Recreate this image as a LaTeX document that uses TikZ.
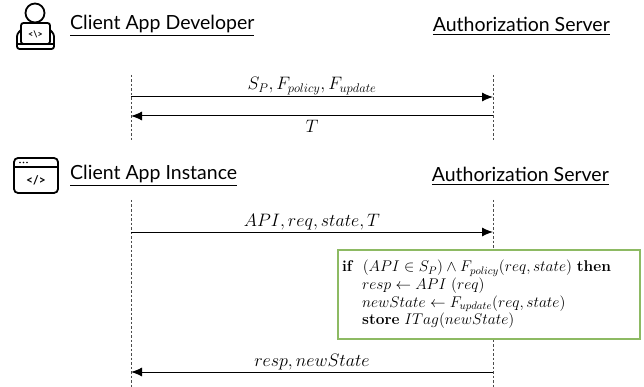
\RequirePackage{fix-cm}
\documentclass[tikz,border=0pt]{standalone}
\usepackage{amsmath}
\usepackage{amssymb}
\usepackage{fontspec}
\usepackage{xcolor}
\usetikzlibrary{arrows.meta,positioning}
\newfontfamily\headfont{Lato}
\definecolor{boxgreen}{RGB}{141,186,99}
\tikzset{
    actor-title/.style = {inner sep=0pt, font=\headfont\fontsize{19.5}{22}\selectfont},
    life-line/.style = {draw=black!70, thin, dash pattern=on 2.5pt off 2pt},
    msg-arrow/.style = {draw=black, line width=1pt, -{Latex[length=11pt,width=9pt]}},
    msg-label/.style = {inner sep=2pt, font=\fontsize{18}{20}\selectfont},
    cond-box/.style = {draw=boxgreen, fill=white, line width=1.2pt, rectangle, inner sep=0pt, minimum width=302pt, minimum height=89pt},
    icon-line/.style = {line width=1.8pt, rounded corners=2.5pt},
}

\begin{document}
\begin{tikzpicture}[x=1pt, y=1pt]
\useasboundingbox (0,0) rectangle (644,-387);
% developer icon
\draw[icon-line] (35,-13) circle (9.5);
\draw[icon-line, fill=white] (21,-23) rectangle (50,-44);
\draw[icon-line] (21,-30) -- (17,-34) -- (17,-49) -- (54,-49) -- (54,-34) -- (50,-30);
\draw[icon-line] (17,-44) -- (54,-44);
\node[inner sep=0pt, font=\headfont\bfseries\fontsize{9}{9}\selectfont] (devcode) at (35.5,-34) {<\textbackslash>};
% instance icon
\draw[icon-line, rounded corners=4pt] (14,-158) rectangle (58,-193);
\draw[line width=1.8pt] (14,-167) -- (58,-167);
\foreach \dx in {20,23.5,27} \fill (\dx,-162.5) circle (0.9);
\node[inner sep=0pt, font=\headfont\bfseries\fontsize{12}{12}\selectfont] (appcode) at (36,-180.5) {</>};

% first exchange
\node[actor-title, anchor=west] (dev) at (70,-26) {\underline{Client App Developer}};
\node[actor-title, anchor=east] (auth1) at (610,-26) {\underline{Authorization Server}};
\coordinate (dev-top) at (131,-75);
\coordinate (dev-bot) at (131,-140);
\coordinate (auth1-top) at (493,-75);
\coordinate (auth1-bot) at (493,-140);
\draw[life-line] (dev-top) -- (dev-bot);
\draw[life-line] (auth1-top) -- (auth1-bot);
\coordinate (m1-from) at (131,-97);
\coordinate (m1-to) at (493,-97);
\coordinate (m2-from) at (493,-116);
\coordinate (m2-to) at (131,-116);
\draw[msg-arrow] (m1-from) -- node[msg-label, above] (m1-label) {$S_P, F_{policy}, F_{update}$} (m1-to);
\draw[msg-arrow] (m2-from) -- node[msg-label, below, inner sep=4pt] (m2-label) {$T$} (m2-to);

% second exchange
\node[actor-title, anchor=west] (inst) at (70,-176) {\underline{Client App Instance}};
\node[actor-title, anchor=east] (auth2) at (609,-176) {\underline{Authorization Server}};
\coordinate (inst-top) at (131,-200);
\coordinate (inst-bot) at (131,-387);
\coordinate (auth2-top) at (493,-200);
\coordinate (auth2-bot) at (493,-387);
\draw[life-line] (inst-top) -- (inst-bot);
\draw[life-line] (auth2-top) -- (auth2-bot);
\coordinate (m3-from) at (131,-232);
\coordinate (m3-to) at (493,-232);
\draw[msg-arrow] (m3-from) -- node[msg-label, above] (m3-label) {$API, req, state, T$} (m3-to);
\node[cond-box] (check) at (489,-294.5) {\begin{minipage}{294pt}
    \fontsize{15.5}{17.6}\selectfont
    \textbf{if}\ \ $(API \in S_P) \land F_{policy}(req, state)$ \textbf{then}\\
    \hspace*{1.3em}$resp \leftarrow API\ (req)$\\
    \hspace*{1.3em}$newState \leftarrow F_{update}(req, state)$\\
    \hspace*{1.3em}\textbf{store} $ITag(newState)$
\end{minipage}};
\coordinate (m4-from) at (493,-372);
\coordinate (m4-to) at (131,-372);
\draw[msg-arrow] (m4-from) -- node[msg-label, above] (m4-label) {$resp, newState$} (m4-to);
\end{tikzpicture}
\end{document}
